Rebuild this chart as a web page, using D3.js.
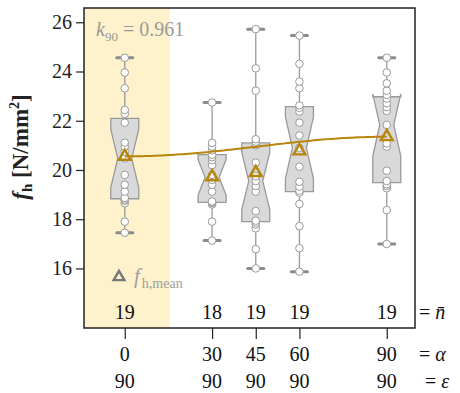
<!DOCTYPE html>
<html><head><meta charset="utf-8">
<script src="https://cdn.jsdelivr.net/npm/d3@7"></script>
<style>
body{margin:0;background:#fff;}
text{font-family:"Liberation Serif","Times New Roman",serif;}
</style></head>
<body><svg id="c" width="460" height="393"></svg>
<script>
// ---- data ----
const alphaValues = [0, 30, 45, 60, 90];
const epsilonValues = [90, 90, 90, 90, 90];
const fh_a0  = [17.45, 17.90, 18.65, 18.75, 18.80, 18.86, 19.12, 19.40, 19.80, 20.47, 20.75, 20.95, 21.11, 21.92, 22.28, 22.44, 23.32, 23.96, 24.56];
const fh_a30 = [17.13, 17.90, 18.60, 18.66, 18.68, 18.72, 19.12, 19.40, 19.60, 19.80, 20.20, 20.40, 20.52, 20.62, 20.80, 20.95, 21.10, 22.74];
const fh_a45 = [16.00, 16.78, 17.63, 17.78, 17.86, 17.94, 18.33, 19.12, 19.35, 19.55, 19.75, 20.30, 21.00, 21.05, 21.15, 21.25, 23.22, 24.13, 25.72];
const fh_a60 = [15.87, 16.82, 17.72, 18.62, 19.08, 19.16, 19.32, 19.52, 20.13, 20.90, 21.40, 21.92, 22.37, 22.52, 22.62, 23.32, 23.59, 24.31, 25.46];
const fh_a90 = [16.99, 18.37, 19.26, 19.35, 19.42, 19.55, 19.97, 20.95, 21.08, 21.83, 22.40, 22.55, 22.71, 22.90, 23.05, 23.22, 23.52, 23.96, 24.56];
const seriesValues = [fh_a0, fh_a30, fh_a45, fh_a60, fh_a90];
const yTickValues = [16, 18, 20, 22, 24, 26];
const k90Label = "0.961";
const highlightBand = [-14, 15.5];

// ---- layout ----
const svg = d3.select("#c");
const L = 84, R = 415, T = 8, B = 328;
const x = d3.scaleLinear().domain([-14, 99.7]).range([L, R]);
const y = d3.scaleLinear().domain([13.58, 26.58]).range([B, T]);
const gold = "#b8860b", boxFill = "#d9d9d9", boxStroke = "#9a9a9a";

// highlight band
svg.append("rect").attr("x", x(highlightBand[0])).attr("y", T)
  .attr("width", x(highlightBand[1]) - x(highlightBand[0])).attr("height", B - T)
  .attr("fill", "#fdf2cb");

// R-like fivenum stats
function stats(arr){
  const s = arr.slice().sort(d3.ascending), n = s.length;
  const n4 = Math.floor((n + 3) / 2) / 2;
  const d = [1, n4, (n + 1) / 2, n + 1 - n4, n];
  const f = d.map(v => 0.5 * (s[Math.floor(v) - 1] + s[Math.ceil(v) - 1]));
  const iqr = f[3] - f[1];
  const lo = d3.min(s.filter(v => v >= f[1] - 1.5 * iqr));
  const hi = d3.max(s.filter(v => v <= f[3] + 1.5 * iqr));
  const nh = 1.58 * iqr / Math.sqrt(n);
  return {q1: f[1], med: f[2], q3: f[3], lo, hi, nlo: f[2] - nh, nhi: f[2] + nh, mean: d3.mean(s), n};
}
const st = seriesValues.map(stats);

const w = 14;
alphaValues.forEach((a, i) => {
  const s = st[i], cx = x(a);
  const g = svg.append("g");
  g.append("line").attr("x1", cx).attr("x2", cx).attr("y1", y(s.q3)).attr("y2", y(s.hi))
    .attr("stroke", boxStroke).attr("stroke-width", 1.3);
  g.append("line").attr("x1", cx).attr("x2", cx).attr("y1", y(s.q1)).attr("y2", y(s.lo))
    .attr("stroke", boxStroke).attr("stroke-width", 1.3);
  [s.hi, s.lo].forEach(v => g.append("line").attr("x1", cx - 8).attr("x2", cx + 8)
    .attr("y1", y(v)).attr("y2", y(v)).attr("stroke", "#8c8c8c").attr("stroke-width", 3)
    .attr("stroke-linecap", "round"));
  const pts = [[cx - w, s.q1], [cx - w, s.nlo], [cx - w / 2, s.med], [cx - w, s.nhi], [cx - w, s.q3],
               [cx + w, s.q3], [cx + w, s.nhi], [cx + w / 2, s.med], [cx + w, s.nlo], [cx + w, s.q1]];
  g.append("path").attr("d", d3.line().x(p => p[0]).y(p => y(p[1]))(pts) + "Z")
    .attr("fill", boxFill).attr("stroke", boxStroke).attr("stroke-width", 1.3);
  g.selectAll("circle").data(seriesValues[i]).join("circle")
    .attr("cx", cx).attr("cy", d => y(d)).attr("r", 3.8)
    .attr("fill", "#fff").attr("stroke", "#9a9a9a").attr("stroke-width", 1);
});

// k90 curve
const f0 = st[0].mean, f90 = st[4].mean, kfit = f0 / f90;
const curve = d3.range(0, 90.5, 1).map(a => {
  const r = a * Math.PI / 180;
  return [a, f0 / (kfit * Math.sin(r) ** 2 + Math.cos(r) ** 2)];
});
svg.append("path").attr("d", d3.line().x(p => x(p[0])).y(p => y(p[1]))(curve))
  .attr("fill", "none").attr("stroke", gold).attr("stroke-width", 2);

// mean triangles
const tri = d3.symbol(d3.symbolTriangle, 60);
alphaValues.forEach((a, i) => {
  svg.append("path").attr("d", tri()).attr("transform", `translate(${x(a)},${y(st[i].mean)})`)
    .attr("fill", "none").attr("stroke", gold).attr("stroke-width", 2.4);
});

// frame
svg.append("rect").attr("x", L).attr("y", T).attr("width", R - L).attr("height", B - T)
  .attr("fill", "none").attr("stroke", "#222").attr("stroke-width", 1.5);

// y axis
const yAxis = d3.axisLeft(y).tickValues(yTickValues).tickSize(8).tickPadding(4);
const ya = svg.append("g").attr("transform", `translate(${L},0)`).call(yAxis);
ya.select(".domain").remove();
ya.selectAll("line").attr("stroke", "#222").attr("stroke-width", 1.2);
ya.selectAll("text").attr("font-size", 20).attr("fill", "#222").attr("font-family", "Liberation Serif");

// x axis ticks
const xAxis = d3.axisBottom(x).tickValues(alphaValues).tickSize(11).tickFormat("");
const xa = svg.append("g").attr("transform", `translate(0,${B})`).call(xAxis);
xa.select(".domain").remove();
xa.selectAll("line").attr("stroke", "#222").attr("stroke-width", 1.2);

// label rows
svg.selectAll(".nlab").data(alphaValues).join("text").attr("class", "nlab")
  .attr("x", d => x(d)).attr("y", 319).attr("text-anchor", "middle")
  .attr("font-size", 20).attr("fill", "#111").text((d, i) => seriesValues[i].length);
svg.selectAll(".alab").data(alphaValues).join("text").attr("class", "alab")
  .attr("x", d => x(d)).attr("y", 361).attr("text-anchor", "middle")
  .attr("font-size", 20).attr("fill", "#111").text(d => d);
svg.selectAll(".elab").data(alphaValues).join("text").attr("class", "elab")
  .attr("x", d => x(d)).attr("y", 388).attr("text-anchor", "middle")
  .attr("font-size", 20).attr("fill", "#111").text((d, i) => epsilonValues[i]);

function rightLabel(yy, xx, sym){
  const t = svg.append("text").attr("x", xx).attr("y", yy).attr("font-size", 20).attr("fill", "#111");
  t.append("tspan").text("= ");
  t.append("tspan").attr("font-style", "italic").text(sym);
}
rightLabel(319, 419, "n\u0304");
rightLabel(361, 419, "\u03B1");
rightLabel(388, 425, "\u03B5");

// k90 annotation
const kt = svg.append("text").attr("x", 96).attr("y", 36).attr("font-size", 20).attr("fill", "#9a9a9a");
kt.append("tspan").attr("font-style", "italic").text("k");
kt.append("tspan").attr("font-size", 13).attr("dy", 5).text("90");
kt.append("tspan").attr("dy", -5).text(" = " + k90Label);

// legend
svg.append("path").attr("d", d3.symbol(d3.symbolTriangle, 50)()).attr("transform", "translate(119,277)")
  .attr("fill", "none").attr("stroke", "#777").attr("stroke-width", 2.4);
const lt = svg.append("text").attr("x", 134).attr("y", 283).attr("font-size", 21).attr("fill", "#a0a0a0");
lt.append("tspan").attr("font-style", "italic").text("f");
lt.append("tspan").attr("font-size", 14).attr("dy", 5).attr("dx", 2).text("h,mean");

// y label
const yl = svg.append("text").attr("transform", "translate(28,147) rotate(-90)")
  .attr("text-anchor", "middle").attr("font-size", 23).attr("font-weight", "bold").attr("fill", "#222");
yl.append("tspan").attr("font-style", "italic").text("f");
yl.append("tspan").attr("font-size", 15).attr("dy", 4).text("h");
yl.append("tspan").attr("dy", -4).text(" [N/mm");
yl.append("tspan").attr("font-size", 14).attr("dy", -9).text("2");
yl.append("tspan").attr("dy", 9).text("]");
</script></body></html>
